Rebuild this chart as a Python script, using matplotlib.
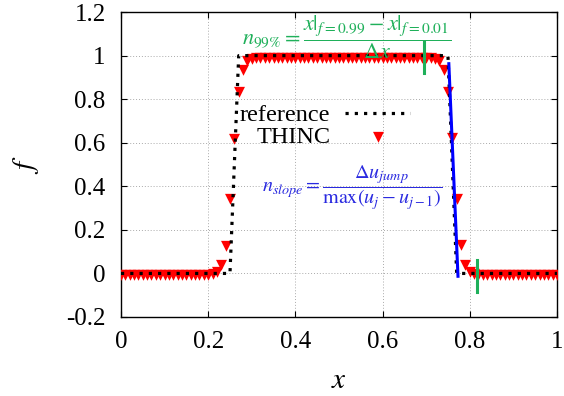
import numpy as np
import matplotlib
matplotlib.use("Agg")
import matplotlib.pyplot as plt

plt.rcParams["font.family"] = ["Liberation Serif", "DejaVu Serif"]
plt.rcParams["mathtext.fontset"] = "stix"

# -----------------------------
# data
# -----------------------------
ref_x = [0.0, 0.25, 0.27, 0.75, 0.77, 1.0]
ref_f = [0.0, 0.0, 1.0, 1.0, 0.0, 0.0]

thinc_x = np.linspace(0.0, 1.0, 101)
thinc_f = [
    0, 0, 0, 0, 0, 0, 0, 0, 0, 0,
    0, 0, 0, 0, 0, 0, 0, 0, 0, 0,
    0.001, 0.005, 0.015, 0.046, 0.137, 0.35, 0.628, 0.84, 0.945, 0.983,
    0.995, 0.998, 1, 1, 1, 1, 1, 1, 1, 1,
    1, 1, 1, 1, 1, 1, 1, 1, 1, 1,
    1, 1, 1, 1, 1, 1, 1, 1, 1, 1,
    1, 1, 1, 1, 1, 1, 1, 1, 1, 1,
    0.999, 0.998, 0.995, 0.983, 0.945, 0.84, 0.633, 0.35, 0.138, 0.046,
    0.015, 0.005, 0.001, 0, 0, 0, 0, 0, 0, 0,
    0, 0, 0, 0, 0, 0, 0, 0, 0, 0,
    0,
]

slope_x = [0.752, 0.773]
slope_f = [0.963, -0.013]

bar1_x = [0.694, 0.694]
bar1_f = [0.922, 1.064]
bar2_x = [0.816, 0.816]
bar2_f = [-0.087, 0.06]

xticks = [0, 0.2, 0.4, 0.6, 0.8, 1]
xtick_labels = ["0", "0.2", "0.4", "0.6", "0.8", "1"]
yticks = [-0.2, 0, 0.2, 0.4, 0.6, 0.8, 1, 1.2]
ytick_labels = ["-0.2", "0", "0.2", "0.4", "0.6", "0.8", "1", "1.2"]

GREEN = "#1fb05a"
BLUE_TXT = "#2a2ae0"

# gnuplot style down triangle, centred on its centroid
tri_down = [(-0.75, 0.5), (0.75, 0.5), (0.0, -1.0), (-0.75, 0.5)]

fig = plt.figure(figsize=(5.64, 3.96), dpi=100)
ax = fig.add_axes([0.2145, 0.1995, 0.773, 0.770])

ax.plot(thinc_x, thinc_f, linestyle="none", marker=tri_down, markersize=10.5,
        color="#ff0000", markeredgewidth=0, label="THINC", zorder=3)
ax.plot(ref_x, ref_f, color="black", linewidth=2.3, linestyle=(0, (1, 1.9)),
        dash_capstyle="butt", label="reference", zorder=4)
ax.plot(slope_x, slope_f, color="#0000ff", linewidth=2.2, zorder=5)
ax.plot(bar1_x, bar1_f, color=GREEN, linewidth=2.2, zorder=5)
ax.plot(bar2_x, bar2_f, color=GREEN, linewidth=2.2, zorder=5)

ax.text(0.517, 1.083,
        r"$n_{99\%} = \dfrac{x|_{f=0.99} - x|_{f=0.01}}{\Delta x}$",
        color=GREEN, fontsize=16, ha="center", va="center", zorder=6)
ax.text(0.531, 0.394,
        r"$n_{slope} = \dfrac{\Delta u_{jump}}{\max(u_j - u_{j-1})}$",
        color=BLUE_TXT, fontsize=14.5, ha="center", va="center", zorder=6)

ax.set_xlim(0, 1)
ax.set_ylim(-0.2, 1.2)
ax.set_xticks(xticks)
ax.set_xticklabels(xtick_labels)
ax.set_yticks(yticks)
ax.set_yticklabels(ytick_labels)
ax.tick_params(direction="in", top=True, right=True, length=4, width=0.8,
               labelsize=18)
ax.tick_params(axis="x", pad=10)
ax.tick_params(axis="y", pad=11)
ax.grid(True, linestyle=(0, (1, 2)), color="#aaaaaa", linewidth=0.7)
for s in ax.spines.values():
    s.set_linewidth(1.0)

ax.set_xlabel("$x$", fontsize=21, labelpad=11)
ax.set_ylabel("$f$", fontsize=21, labelpad=18, rotation=90)

h, l = ax.get_legend_handles_labels()
leg = ax.legend(h[::-1], l[::-1], loc="center right", bbox_to_anchor=(0.664, 0.676),
                bbox_transform=ax.transData, frameon=False, markerfirst=False,
                fontsize=17.5, handlelength=2.7, handletextpad=0.6,
                labelspacing=0.0, borderpad=0, borderaxespad=0)

fig.savefig("out.png", dpi=100)
